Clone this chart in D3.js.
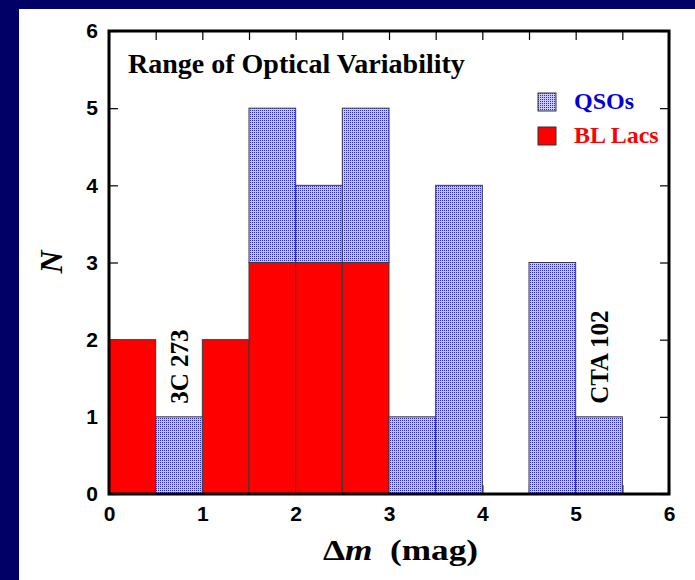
<!DOCTYPE html>
<html>
<head>
<meta charset="utf-8">
<script src="https://cdn.jsdelivr.net/npm/d3@7"></script>
<style>
  html, body { margin: 0; padding: 0; background: #000066; }
  #viz { width: 695px; height: 580px; }
</style>
</head>
<body>
<div id="viz"></div>
<script>
// bins of delta m, 0.5 mag wide
const binStarts = [0, 0.5, 1, 1.5, 2, 2.5, 3, 3.5, 4, 4.5, 5];
const blLacs = [2, 0, 2, 3, 3, 3, 0, 0, 0, 0, 0];
const qsos = [0, 1, 0, 2, 1, 2, 1, 4, 0, 3, 1];
const seriesNames = ["BL Lacs", "QSOs"];
const xTicks = [0, 1, 2, 3, 4, 5, 6];
const yTicks = [0, 1, 2, 3, 4, 5, 6];
const annotations = [
    { label: "3C 273", x: 0.75, y: 1 },
    { label: "CTA 102", x: 5.25, y: 1 }
];

const width = 695;
const height = 580;
const binWidth = 0.5;

const svg = d3.select("#viz").append("svg")
    .attr("width", width)
    .attr("height", height);

// dotted fill for the QSO bars
const pattern = svg.append("defs").append("pattern")
    .attr("id", "qsoDots")
    .attr("patternUnits", "userSpaceOnUse")
    .attr("width", 2)
    .attr("height", 2);
pattern.append("rect").attr("width", 2).attr("height", 2).attr("fill", "#c8c8ff");
pattern.append("rect").attr("width", 1).attr("height", 1).attr("fill", "#2a2ad8");

svg.append("rect")
    .attr("width", width).attr("height", height)
    .attr("fill", "#000066");
svg.append("rect")
    .attr("x", 19).attr("y", 9)
    .attr("width", width - 19).attr("height", height - 9)
    .attr("fill", "white");

const x = d3.scaleLinear().domain([0, 6]).range([109, 669]);
const y = d3.scaleLinear().domain([0, 6]).range([494, 31]);

const minorX = d3.range(0, 6.01, 0.5);
const sans = "Liberation Sans, Arial, sans-serif";

// inward ticks on all four sides
svg.append("g")
    .attr("transform", `translate(0,${y(0)})`)
    .call(d3.axisBottom(x).tickValues(minorX).tickSizeInner(-9).tickSizeOuter(0).tickPadding(12)
        .tickFormat(d => xTicks.includes(d) ? d : ""))
    .call(g => g.select(".domain").remove())
    .call(g => g.selectAll("text").attr("font-family", sans)
        .attr("font-weight", "bold").attr("font-size", 21).attr("fill", "black"));

svg.append("g")
    .attr("transform", `translate(0,${y(6)})`)
    .call(d3.axisTop(x).tickValues(minorX).tickSizeInner(-9).tickSizeOuter(0).tickFormat(""))
    .call(g => g.select(".domain").remove());

svg.append("g")
    .attr("transform", `translate(${x(0)},0)`)
    .call(d3.axisLeft(y).tickValues(yTicks).tickSizeInner(-9).tickSizeOuter(0).tickPadding(11)
        .tickFormat(d3.format("d")))
    .call(g => g.select(".domain").remove())
    .call(g => g.selectAll("text").attr("font-family", sans)
        .attr("font-weight", "bold").attr("font-size", 21).attr("fill", "black"));

svg.append("g")
    .attr("transform", `translate(${x(6)},0)`)
    .call(d3.axisRight(y).tickValues(yTicks).tickSizeInner(-9).tickSizeOuter(0).tickFormat(""))
    .call(g => g.select(".domain").remove());

svg.selectAll(".tick line").attr("stroke", "black").attr("stroke-width", 1.2);

// stacked histogram
const table = binStarts.map((b, i) => ({ bin: b, "BL Lacs": blLacs[i], "QSOs": qsos[i] }));
const stacked = d3.stack().keys(seriesNames)(table);
const fills = { "BL Lacs": "#ff0000", "QSOs": "url(#qsoDots)" };

svg.selectAll("g.series")
    .data(stacked)
    .enter()
    .append("g")
    .attr("class", "series")
    .attr("fill", d => fills[d.key])
    .selectAll("rect")
    .data(d => d.filter(s => s[1] > s[0]))
    .enter()
    .append("rect")
    .attr("x", d => x(d.data.bin))
    .attr("width", d => x(d.data.bin + binWidth) - x(d.data.bin))
    .attr("y", d => y(d[1]))
    .attr("height", d => y(d[0]) - y(d[1]))
    .attr("stroke", "#3a3a3a")
    .attr("stroke-width", 1);

// frame
svg.append("rect")
    .attr("x", x(0)).attr("y", y(6))
    .attr("width", x(6) - x(0)).attr("height", y(0) - y(6))
    .attr("fill", "none")
    .attr("stroke", "black")
    .attr("stroke-width", 3);

const serif = "Liberation Serif, Times New Roman, serif";

svg.append("text")
    .attr("x", 128).attr("y", 73)
    .attr("font-family", serif).attr("font-weight", "bold").attr("font-size", 28)
    .text("Range of Optical Variability");

// annotations, rotated
annotations.forEach(a => {
    svg.append("text")
        .attr("transform", `translate(${x(a.x) + 9},${y(a.y) - 13}) rotate(-90)`)
        .attr("font-family", serif).attr("font-weight", "bold").attr("font-size", 25)
        .text(a.label);
});

// legend
const legendItems = [
    { name: "QSOs", fill: fills["QSOs"], color: "#0000dd" },
    { name: "BL Lacs", fill: fills["BL Lacs"], color: "#ff0000" }
];
const legend = svg.selectAll("g.legend")
    .data(legendItems)
    .enter()
    .append("g")
    .attr("transform", (d, i) => `translate(538,${93 + i * 34})`);
legend.append("rect")
    .attr("width", 18).attr("height", 18)
    .attr("fill", d => d.fill)
    .attr("stroke", "#333").attr("stroke-width", 1);
legend.append("text")
    .attr("x", 36).attr("y", 16)
    .attr("font-family", serif).attr("font-weight", "bold").attr("font-size", 24)
    .attr("fill", d => d.color)
    .text(d => d.name);

// axis titles
svg.append("text")
    .attr("transform", "translate(62,262) rotate(-90)")
    .attr("text-anchor", "middle")
    .attr("font-family", serif).attr("font-weight", "bold").attr("font-style", "italic").attr("font-size", 32)
    .text("N");

const xTitle = svg.append("text")
    .attr("x", 323).attr("y", 560)
    .attr("textLength", 155)
    .attr("lengthAdjust", "spacingAndGlyphs")
    .attr("font-family", serif).attr("font-weight", "bold").attr("font-size", 29);
xTitle.append("tspan").text("\u0394");
xTitle.append("tspan").attr("font-style", "italic").text("m");
xTitle.append("tspan").text("\u00a0 (mag)");
</script>
</body>
</html>
